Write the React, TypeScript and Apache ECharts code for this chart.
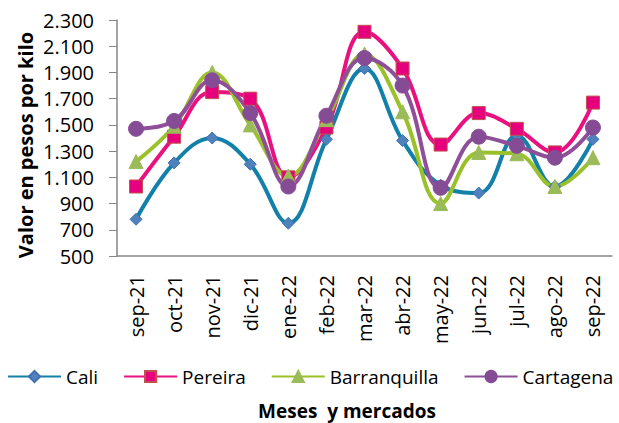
import React, { useEffect, useRef } from "react";
import * as echarts from "echarts";

const months = ["sep-21", "oct-21", "nov-21", "dic-21", "ene-22", "feb-22", "mar-22", "abr-22", "may-22", "jun-22", "jul-22", "ago-22", "sep-22"];
const cali = [780, 1210, 1400, 1200, 750, 1390, 1930, 1380, 1040, 980, 1420, 1030, 1390];
const pereira = [1030, 1410, 1750, 1700, 1100, 1480, 2210, 1930, 1350, 1590, 1470, 1290, 1670];
const barranquilla = [1220, 1490, 1900, 1500, 1110, 1540, 2040, 1600, 900, 1290, 1280, 1030, 1250];
const cartagena = [1470, 1530, 1840, 1590, 1030, 1570, 2010, 1800, 1020, 1410, 1340, 1250, 1480];

const FONT = "'Open Sans', 'Noto Sans', sans-serif";

export default function App() {
  const ref = useRef<HTMLDivElement>(null);
  useEffect(() => {
    if (!ref.current) return;
    const chart = echarts.init(ref.current, null, { renderer: "svg" });
    const mk = (name: string, data: number[], line: string, sym: string, size: number, fill: string, border: string) => ({
      name,
      type: "line",
      data,
      smooth: 0.4,
      symbol: sym,
      symbolSize: size,
      lineStyle: { color: line, width: 4 },
      itemStyle: { color: fill, borderColor: border, borderWidth: 1 },
      emphasis: { disabled: true },
    });
    chart.setOption({
      animation: false,
      textStyle: { fontFamily: FONT },
      grid: { left: 117, right: 7, top: 20, bottom: 167, containLabel: false },
      legend: {
        left: 7,
        top: 367,
        width: 900,
        padding: 0,
        itemWidth: 53,
        itemHeight: 14,
        itemGap: 25,
        textStyle: { fontSize: 19, color: "#000", fontFamily: FONT },
        data: ["Cali", "Pereira", "Barranquilla", "Cartagena"],
      },
      graphic: [
        {
          type: "text",
          x: 347,
          y: 411,
          style: {
            text: "Meses  y mercados",
            font: `bold 19px ${FONT}`,
            fill: "#000",
            align: "center",
            verticalAlign: "middle",
          },
        },
        {
          type: "text",
          x: 25,
          y: 145,
          rotation: Math.PI / 2,
          style: {
            text: "Valor en pesos por kilo",
            font: `bold 20px ${FONT}`,
            fill: "#000",
            align: "center",
            verticalAlign: "middle",
          },
        },
      ],
      xAxis: {
        type: "category",
        data: months,
        boundaryGap: true,
        axisLine: { lineStyle: { color: "#868686", width: 1.5 } },
        axisTick: { show: false },
        axisLabel: { rotate: 90, fontSize: 20, color: "#000", margin: 19, fontFamily: FONT },
      },
      yAxis: {
        type: "value",
        min: 500,
        max: 2300,
        interval: 200,
        splitLine: { show: false },
        axisLine: { show: true, lineStyle: { color: "#868686", width: 1.5 } },
        axisTick: { show: true, length: 8, lineStyle: { color: "#868686" } },
        axisLabel: {
          fontSize: 20,
          color: "#000",
          margin: 23,
          fontFamily: FONT,
          formatter: (v: number) => v.toLocaleString("de-DE"),
        },
      },
      series: [
        mk("Cali", cali, "#1280a8", "diamond", 12, "#4f81bd", "#3f71b0"),
        mk("Pereira", pereira, "#e8117f", "rect", 13, "#e6007e", "#c0504d"),
        mk("Barranquilla", barranquilla, "#9bc12a", "triangle", 14, "#9bbb59", "#9bbb59"),
        mk("Cartagena", cartagena, "#8e4f98", "circle", 15, "#854c95", "#854c95"),
      ],
    });
    return () => chart.dispose();
  }, []);
  return <div ref={ref} style={{ width: 619, height: 423, position: "absolute", left: 0, top: 0 }} />;
}
